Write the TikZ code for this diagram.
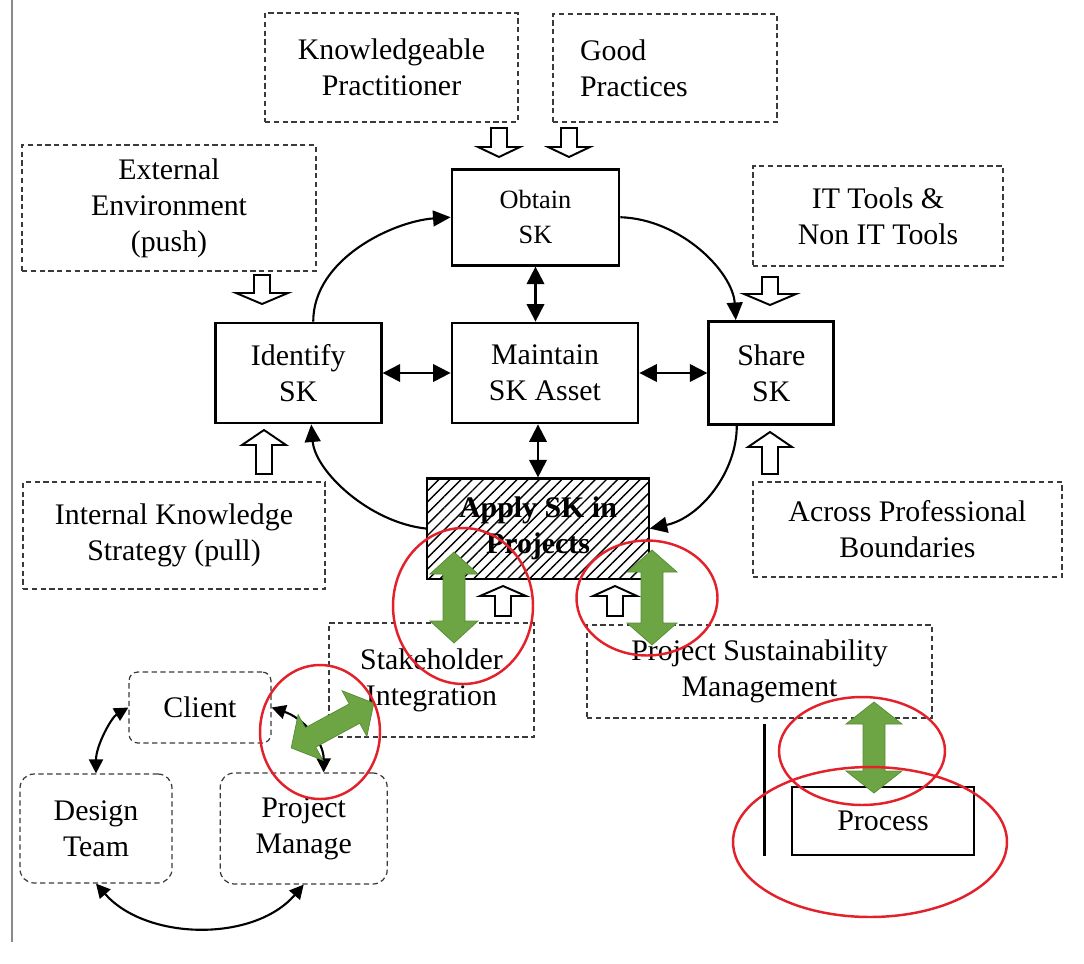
\documentclass[tikz,border=0pt]{standalone}
\usepackage{fontspec}
\setmainfont{Liberation Serif}
\usetikzlibrary{arrows.meta, positioning, calc, patterns.meta}
\definecolor{dashG}{HTML}{3A3A3A}
\definecolor{frameG}{HTML}{8A8A8A}
\definecolor{leafG}{HTML}{6DA544}
\definecolor{leafD}{HTML}{558B33}
\definecolor{markR}{HTML}{E3212B}

% hollow block arrow: x, tail y, tip y, head half width, head length
\newcommand{\hollowarr}[5]{%
  \pgfmathsetmacro{\hbase}{#3+(#2>#3 ? #5 : -#5)}%
  \draw[hollow] (#1-8,#2) -- (#1-8,\hbase) -- (#1-#4,\hbase) -- (#1,#3)
    -- (#1+#4,\hbase) -- (#1+8,\hbase) -- (#1+8,#2) -- cycle;}

% green double block arrow: centre x, centre y, angle, half length, head half width
\newcommand{\greendbl}[5]{%
  \begin{scope}[shift={(#1,#2)}, rotate=#3]
    \filldraw[greenarr] (-#4,0) -- (-#4+22,#5) -- (-#4+22,11) -- (#4-22,11)
      -- (#4-22,#5) -- (#4,0) -- (#4-22,-#5) -- (#4-22,-11)
      -- (-#4+22,-11) -- (-#4+22,-#5) -- cycle;
  \end{scope}}

\begin{document}
\begin{tikzpicture}[
  x=0.02cm, y=-0.02cm,
  srcbox/.style={
    draw=dashG, dash pattern=on 3pt off 2pt,
    line width=0.7pt, inner sep=0pt, align=center,
    font=\fontsize{17}{20.5}\selectfont
  },
  actbox/.style={srcbox, rounded corners=#1},
  actbox/.default=5pt,
  skbox/.style={
    draw=black, fill=white, line width=1.6pt,
    inner sep=0pt, align=center,
    font=\fontsize{17}{20.5}\selectfont
  },
  applybox/.style={
    skbox,
    pattern={Lines[angle=45,distance=4.5pt,line width=0.8pt]},
    font=\bfseries\fontsize{17}{20.5}\selectfont
  },
  carr/.style={-{Triangle[length=10pt,width=9pt]}, line width=1.2pt},
  darr/.style={{Triangle[length=10pt,width=10pt]}-{Triangle[length=10pt,width=10pt]}, line width=1.2pt},
  sarr/.style={{Triangle[length=8pt,width=8pt]}-{Triangle[length=8pt,width=8pt]}, line width=1.2pt},
  hollow/.style={draw=black, fill=white, line width=1.1pt},
  greenarr/.style={fill=leafG, draw=leafD, line width=0.4pt},
  ring/.style={draw=markR, line width=1.4pt}
]
\useasboundingbox (0,0) rectangle (1084,963);
\draw[frameG, line width=1pt] (12,0) -- (12,942);

%% ═══ SK CYCLE ═══
\node[skbox, minimum width=3.72cm, minimum height=2cm] (maintain) at (545,373)
  {Maintain\\SK Asset};
\node[skbox, minimum width=3.32cm, minimum height=2cm, left=1.36cm of maintain] (identify)
  {Identify\\SK};
\node[skbox, minimum width=2.5cm, minimum height=2.06cm, right=1.36cm of maintain] (share)
  {Share\\SK};
\node[skbox, minimum width=3.34cm, minimum height=1.92cm, above=1.1cm of maintain,
  xshift=-0.19cm, font=\fontsize{15}{20}\selectfont] (obtain)
  {Obtain\\SK};
\node[applybox, minimum width=4.44cm, minimum height=2.02cm, below=1.06cm of maintain,
  xshift=-0.14cm] (apply)
  {Apply SK in\\Projects};

\draw[darr] (identify) -- (maintain);
\draw[darr] (maintain.east) -- (maintain.east -| share.west);
\draw[darr] (obtain.south) -- (obtain.south |- maintain.north);
\draw[darr] (apply.north |- maintain.south) -- (apply.north);

\draw[carr] ([xshift=0.3cm]identify.north) .. controls +(0,-63) and +(-57,4) .. (obtain.west);
\draw[carr] (obtain.east) .. controls +(61,2) and +(-3,-48) .. ([xshift=-0.71cm]share.north);
\draw[carr] ([xshift=-0.69cm]share.south) .. controls +(0,46) and +(51,-11) .. (apply.east);
\draw[carr] (apply.west) .. controls +(-57,-6) and +(4,47) .. ([xshift=0.26cm]identify.south);

%% ═══ SOURCES ═══
\node[srcbox, minimum width=5.06cm, minimum height=2.18cm] (kp) at (391.5,67.5)
  {Knowledgeable\\Practitioner};
\node[srcbox, minimum width=4.48cm, minimum height=2.16cm, text width=3.4cm, align=left] (gp) at (665,68)
  {Good\\Practices};
\node[srcbox, minimum width=5.88cm, minimum height=2.52cm] (ext) at (169,208)
  {External\\Environment\\(push)};
\node[srcbox, minimum width=5cm, minimum height=2cm] (ittools) at (878,216)
  {IT Tools \&\\Non IT Tools};
\node[srcbox, minimum width=6.04cm, minimum height=2.14cm] (iks) at (174,535.5)
  {Internal Knowledge\\Strategy (pull)};
\node[srcbox, minimum width=6.18cm, minimum height=1.9cm] (across) at (907.5,529.5)
  {Across Professional\\Boundaries};
\node[srcbox, minimum width=4.1cm, minimum height=2.28cm] (stake) at (431.5,680)
  {Stakeholder\\Integration};
\node[srcbox, minimum width=6.9cm, minimum height=1.86cm] (psm) at (759.5,671.5)
  {Project Sustainability\\Management};

\hollowarr{499}{128}{157}{21}{10}
\hollowarr{569}{128}{157}{21}{10}
\hollowarr{262}{275}{304}{26}{11}
\hollowarr{770}{277}{305}{26}{11}
\hollowarr{264}{474}{430}{22}{15}
\hollowarr{770}{474}{432}{22}{15}
\hollowarr{503}{616}{586}{23}{10}
\hollowarr{615}{616}{586}{22}{10}

%% ═══ PROJECT ACTORS ═══
\node[actbox, minimum width=2.84cm, minimum height=1.42cm] (client) at (200,707.5) {Client};
\node[actbox=8pt, minimum width=3.04cm, minimum height=2.18cm] (dt) at (96,828.5) {Design\\Team};
\node[actbox=8pt, minimum width=3.34cm, minimum height=2.22cm, right=0.94cm of dt] (pm) {Project\\Manage};

\draw[sarr] (client.west) .. controls +(-17,10) and +(0,-28) .. (dt.north);
\draw[sarr] (dt.south) .. controls +(50,57) and +(-50,58) .. (pm.south);
\draw[sarr] (client.east) .. controls +(30,10) and +(0,-32) .. ([xshift=0.4cm]pm.north);

%% ═══ PROCESS ═══
\node[skbox, line width=1.5pt, minimum width=3.64cm, minimum height=1.36cm] (process) at (883,821) {Process};
\draw[line width=1.4pt] ($(process.south west)+(-26,0)$) -- ++(0,-132);

%% ═══ HIGHLIGHTS ═══
\greendbl{454}{597.5}{90}{45.5}{24}
\greendbl{652}{597.5}{90}{47.5}{25}
\greendbl{874}{747.5}{90}{45.5}{28}
\greendbl{332.5}{725.5}{28.5}{47}{26}

\draw[ring] (463,606) ellipse [x radius=1.4cm, y radius=1.56cm];
\draw[ring] (647,598) ellipse [x radius=1.41cm, y radius=1.15cm];
\draw[ring] (320,732) ellipse [x radius=1.2cm, y radius=1.34cm];
\draw[ring] (862,751) ellipse [x radius=1.66cm, y radius=1.08cm];
\draw[ring] (870,842) ellipse [x radius=2.74cm, y radius=1.5cm];

\end{tikzpicture}
\end{document}
